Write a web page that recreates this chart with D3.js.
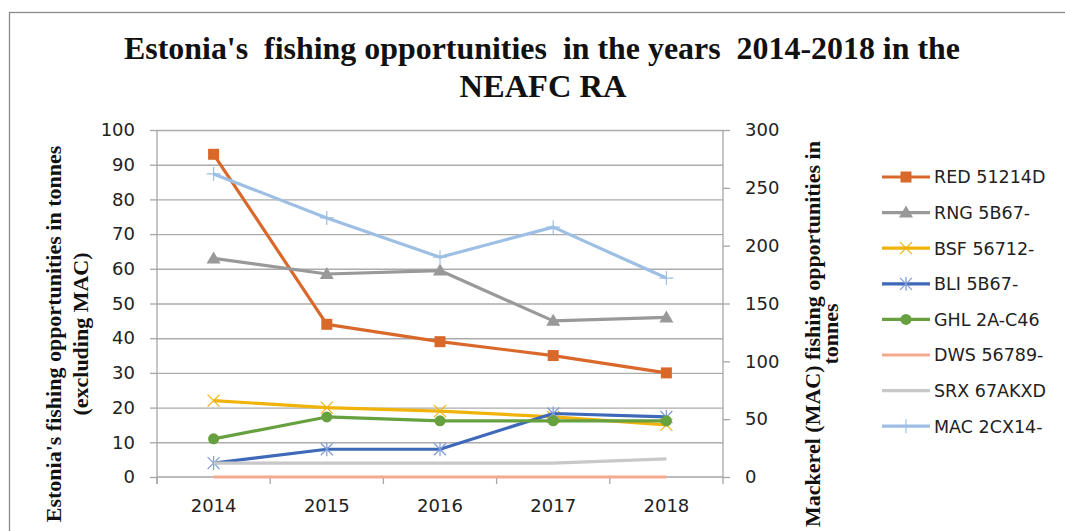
<!DOCTYPE html>
<html>
<head>
<meta charset="utf-8">
<script src="https://cdn.jsdelivr.net/npm/d3@7/dist/d3.min.js"></script>
<style>
  html, body { margin: 0; padding: 0; background: #fff; }
  svg { display: block; }
  .pre { white-space: pre; }
</style>
</head>
<body>
<div id="chart"></div>
<script>
// values
const years = ['2014', '2015', '2016', '2017', '2018'];
const red = [93, 44, 39, 35, 30];
const rng = [63, 58.5, 59.5, 45, 46];
const bsf = [22, 20, 19, 17.3, 15];
const bli = [4, 8, 8, 18.3, 17.3];
const ghl = [11, 17.3, 16.2, 16.2, 16.2];
const dws = [0, 0, 0, 0, 0];
const srx = [4, 4, 4, 4, 5.2];
const mac = [262, 224, 190, 216, 172];   // secondary axis

const leftTicks = [0, 10, 20, 30, 40, 50, 60, 70, 80, 90, 100];
const rightTicks = [0, 50, 100, 150, 200, 250, 300];

const series = [
  { name: 'RED 51214D', values: red, color: '#d9692b', marker: 'square', axis: 'left' },
  { name: 'RNG 5B67-', values: rng, color: '#999999', marker: 'triangle', axis: 'left' },
  { name: 'BSF 56712-', values: bsf, color: '#efb30a', marker: 'x', axis: 'left' },
  { name: 'BLI 5B67-', values: bli, color: '#3e69b8', marker: 'asterisk', axis: 'left' },
  { name: 'GHL 2A-C46', values: ghl, color: '#67a03f', marker: 'circle', axis: 'left' },
  { name: 'DWS 56789-', values: dws, color: '#f2a98d', marker: 'none', axis: 'left' },
  { name: 'SRX 67AKXD', values: srx, color: '#c8c8c8', marker: 'none', axis: 'left' },
  { name: 'MAC 2CX14-', values: mac, color: '#9dbfe4', marker: 'plus', axis: 'right' }
];

const width = 1065, height = 531;
const plot = { left: 157, right: 723, top: 130, bottom: 477 };

const svg = d3.select('#chart').append('svg')
  .attr('width', width)
  .attr('height', height);

svg.append('rect').attr('width', width).attr('height', height).attr('fill', '#fff');

// chart frame (right and bottom edges fall outside the picture)
svg.append('rect')
  .attr('x', 9.5).attr('y', 12.5)
  .attr('width', 1100).attr('height', 560)
  .attr('fill', 'none').attr('stroke', '#8a8a8a').attr('stroke-width', 1.3);

const x = d3.scaleBand().domain(years).range([plot.left, plot.right]).padding(0);
const cx = d => x(d) + x.bandwidth() / 2;
const yL = d3.scaleLinear().domain([0, 100]).range([plot.bottom, plot.top]);
const yR = d3.scaleLinear().domain([0, 300]).range([plot.bottom, plot.top]);

const tickFont = 'DejaVu Sans, sans-serif';

// gridlines
const grid = svg.append('g')
  .attr('transform', `translate(${plot.left},0)`)
  .call(d3.axisLeft(yL).tickValues(leftTicks.slice(1)).tickSize(-(plot.right - plot.left)).tickFormat(''));
grid.select('.domain').remove();
grid.selectAll('line').attr('stroke', '#ababab').attr('stroke-width', 1.4);

// left axis
const gL = svg.append('g')
  .attr('transform', `translate(${plot.left},0)`)
  .call(d3.axisLeft(yL).tickValues(leftTicks).tickSize(7).tickPadding(15));
gL.select('.domain').attr('stroke', '#a6a6a6').attr('stroke-width', 1.3)
  .attr('d', `M0,${plot.top}V${plot.bottom + 7}`);
gL.selectAll('line').attr('stroke', '#a6a6a6').attr('stroke-width', 1.3);
gL.selectAll('text').attr('font-family', tickFont).attr('font-size', 18).attr('fill', '#222');

// right axis
const gR = svg.append('g')
  .attr('transform', `translate(${plot.right},0)`)
  .call(d3.axisRight(yR).tickValues(rightTicks).tickSize(7).tickPadding(15));
gR.select('.domain').attr('stroke', '#a6a6a6').attr('stroke-width', 1.3)
  .attr('d', `M0,${plot.top}V${plot.bottom + 7}`);
gR.selectAll('line').attr('stroke', '#a6a6a6').attr('stroke-width', 1.3);
gR.selectAll('text').attr('font-family', tickFont).attr('font-size', 18).attr('fill', '#222');

// bottom axis: labels at category centres, ticks between categories
const gB = svg.append('g')
  .attr('transform', `translate(0,${plot.bottom})`)
  .call(d3.axisBottom(x).tickSize(0).tickPadding(22));
gB.select('.domain').attr('stroke', '#a6a6a6').attr('stroke-width', 1.3)
  .attr('d', `M${plot.left},0H${plot.right}`);
gB.selectAll('text').attr('font-family', tickFont).attr('font-size', 18).attr('fill', '#222');
svg.append('g').selectAll('line')
  .data(years)
  .join('line')
  .attr('x1', d => x(d)).attr('x2', d => x(d))
  .attr('y1', plot.bottom).attr('y2', plot.bottom + 7)
  .attr('stroke', '#a6a6a6').attr('stroke-width', 1.3);

// marker drawing
function drawMarker(g, type, color, px, py) {
  const s = 6;
  if (type === 'square') {
    g.append('rect').attr('x', px - 5.5).attr('y', py - 5.5).attr('width', 11).attr('height', 11)
      .attr('fill', color);
  } else if (type === 'triangle') {
    g.append('path').attr('d', `M${px},${py - 7}L${px + 7},${py + 5}L${px - 7},${py + 5}Z`)
      .attr('fill', color);
  } else if (type === 'circle') {
    g.append('circle').attr('cx', px).attr('cy', py).attr('r', 5.5).attr('fill', color);
  } else if (type === 'x') {
    g.append('path').attr('d', `M${px - s},${py - s}L${px + s},${py + s}M${px + s},${py - s}L${px - s},${py + s}`)
      .attr('stroke', color).attr('stroke-width', 1.2).attr('fill', 'none');
  } else if (type === 'asterisk') {
    g.append('path').attr('d', `M${px - s},${py - s}L${px + s},${py + s}M${px + s},${py - s}L${px - s},${py + s}M${px},${py - 7}V${py + 7}`)
      .attr('stroke', '#7d9bd6').attr('stroke-width', 1.2).attr('fill', 'none');
  } else if (type === 'plus') {
    g.append('path').attr('d', `M${px - 7},${py}H${px + 7}M${px},${py - 7}V${py + 7}`)
      .attr('stroke', color).attr('stroke-width', 1.2).attr('fill', 'none');
  }
}

// lines
const lines = svg.append('g');
series.forEach(s => {
  const yS = s.axis === 'right' ? yR : yL;
  const line = d3.line().x((d, i) => cx(years[i])).y(d => yS(d));
  const g = lines.append('g');
  g.append('path')
    .attr('d', line(s.values))
    .attr('fill', 'none')
    .attr('stroke', s.color)
    .attr('stroke-width', 3.2)
    .attr('stroke-linejoin', 'round');
  s.values.forEach((v, i) => drawMarker(g, s.marker, s.color, cx(years[i]), yS(v)));
});

// legend
const legend = svg.append('g');
series.forEach((s, i) => {
  const ly = 177 + i * 35.6;
  legend.append('line')
    .attr('x1', 882).attr('x2', 930).attr('y1', ly).attr('y2', ly)
    .attr('stroke', s.color).attr('stroke-width', 3.2);
  drawMarker(legend, s.marker, s.color, 906, ly);
  legend.append('text')
    .attr('x', 934).attr('y', ly).attr('dy', '0.36em')
    .attr('font-family', tickFont).attr('font-size', 17.5).attr('fill', '#222')
    .text(s.name);
});

// title
const titleFont = 'Liberation Serif, Times New Roman, serif';
svg.append('text')
  .attr('class', 'pre')
  .attr('x', 542).attr('y', 59).attr('text-anchor', 'middle')
  .attr('font-family', titleFont).attr('font-weight', 'bold').attr('font-size', 31).attr('fill', '#111')
  .attr('textLength', 836).attr('lengthAdjust', 'spacingAndGlyphs')
  .text("Estonia's  fishing opportunities  in the years  2014-2018 in the");
svg.append('text')
  .attr('x', 543).attr('y', 97).attr('text-anchor', 'middle')
  .attr('font-family', titleFont).attr('font-weight', 'bold').attr('font-size', 31).attr('fill', '#111')
  .attr('textLength', 167).attr('lengthAdjust', 'spacingAndGlyphs')
  .text('NEAFC RA');

// axis titles
const leftTitle = svg.append('text')
  .attr('transform', 'translate(61,334) rotate(-90)')
  .attr('text-anchor', 'middle')
  .attr('font-family', titleFont).attr('font-weight', 'bold').attr('font-size', 22).attr('fill', '#111');
leftTitle.append('tspan').attr('x', 0).attr('y', 0).text("Estonia's fishing opportunities in tonnes");
leftTitle.append('tspan').attr('x', 0).attr('y', 27).text('(excluding MAC)');

const rightTitle = svg.append('text')
  .attr('transform', 'translate(820,334) rotate(-90)')
  .attr('text-anchor', 'middle')
  .attr('font-family', titleFont).attr('font-weight', 'bold').attr('font-size', 22).attr('fill', '#111');
rightTitle.append('tspan').attr('x', 0).attr('y', 0).text('Mackerel (MAC) fishing opportunities in');
rightTitle.append('tspan').attr('x', 0).attr('y', 18).text('tonnes');
</script>
</body>
</html>
